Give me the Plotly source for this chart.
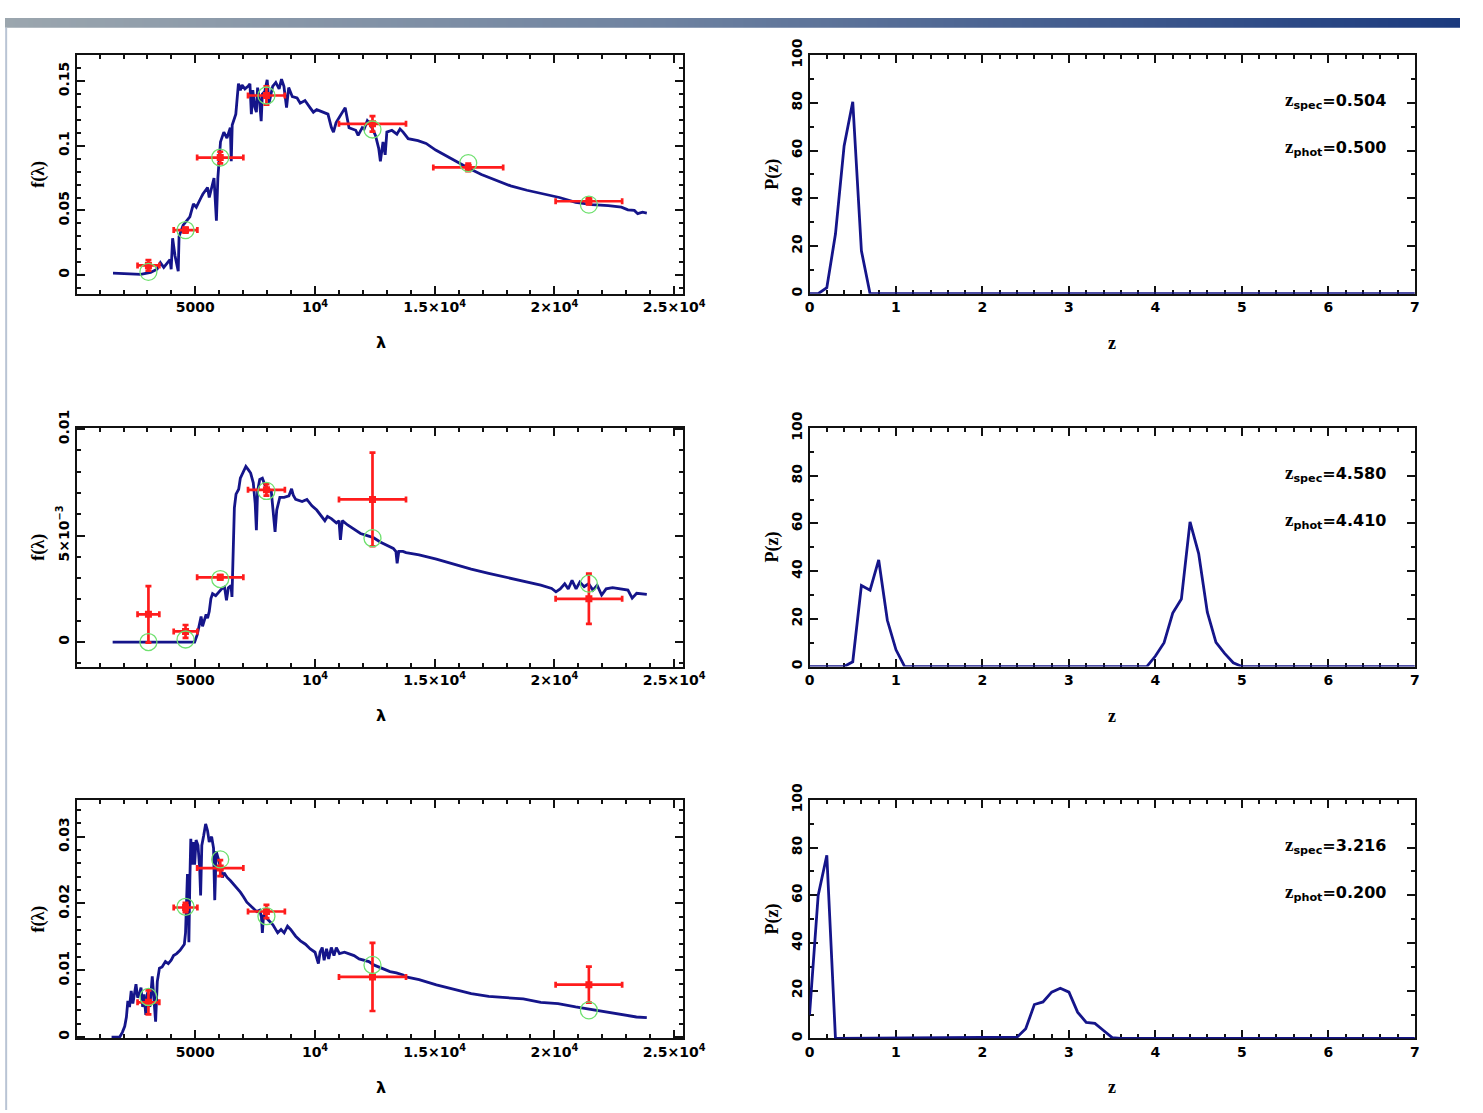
import plotly.graph_objects as go

W, H = 1483, 1113

# ---------------- data ----------------
sed1_lam = [1560, 2180, 2720, 3130, 3400, 3540, 3680, 3940, 3990, 4050, 4150, 4285, 4320, 4490, 4690, 4770,
            4920, 5040, 5240, 5310, 5510, 5580, 5780, 5820, 5880, 5940, 6050, 6190, 6320, 6460, 6500, 6540,
            6690, 6800, 6880, 6950, 7070, 7200, 7280, 7340, 7400, 7480, 7550, 7600, 7680, 7750, 7800, 7900,
            8000, 8080, 8230, 8360, 8500, 8600, 8700, 8810, 8900, 9050, 9250, 9380, 9580, 9790, 9930, 10070,
            10340, 10540, 10680, 10770, 10880, 11080, 11260, 11420, 11560, 11700, 11800, 11970, 12050, 12185,
            12300, 12525, 12660, 12730, 12840, 12930, 13000, 13210, 13420, 13550, 13680, 13890, 14300, 14640,
            15040, 15520, 16000, 16400, 16950, 17490, 18170, 18850, 19530, 20210, 20890, 21570, 22250, 22800,
            23070, 23340, 23480, 23680, 23860]
sed1_flux = [0.0015, 0.0008, 0.0005, 0.0020, 0.0045, 0.0096, 0.0060, 0.0120, 0.0045, 0.0285, 0.0150, 0.0030,
             0.0300, 0.0386, 0.0437, 0.0450, 0.0550, 0.0525, 0.0600, 0.0625, 0.0677, 0.0600, 0.0750, 0.0600,
             0.0420, 0.0750, 0.1030, 0.1106, 0.1060, 0.1140, 0.0880, 0.1160, 0.1245, 0.1480, 0.1430, 0.1470,
             0.1440, 0.1460, 0.1480, 0.1245, 0.1430, 0.1300, 0.1260, 0.1450, 0.1350, 0.1190, 0.1400, 0.1420,
             0.1510, 0.1330, 0.1460, 0.1490, 0.1440, 0.1515, 0.1460, 0.1295, 0.1450, 0.1380, 0.1370, 0.1330,
             0.1350, 0.1295, 0.1260, 0.1280, 0.1258, 0.1245, 0.1144, 0.1106, 0.1180, 0.1245, 0.1295, 0.1140,
             0.1130, 0.1120, 0.1080, 0.1140, 0.1130, 0.1194, 0.1170, 0.1080, 0.0980, 0.0880, 0.1030, 0.0930,
             0.1106, 0.1120, 0.1090, 0.1130, 0.1106, 0.1055, 0.1040, 0.1018, 0.0967, 0.0917, 0.0866, 0.0828,
             0.0778, 0.0740, 0.0690, 0.0656, 0.0626, 0.0600, 0.0563, 0.0545, 0.0538, 0.0525, 0.0505, 0.0500,
             0.0475, 0.0487, 0.0480]

sed2_lam = [1545, 4970, 5080, 5180, 5240, 5300, 5380, 5450, 5510, 5580, 5650, 5720, 5850, 5990, 6100, 6220,
            6300, 6380, 6490, 6530, 6575, 6630, 6700, 6810, 6880, 6940, 7010, 7110, 7210, 7310, 7420, 7500,
            7550, 7600, 7690, 7800, 7900, 8030, 8170, 8260, 8330, 8400, 8530, 8710, 8910, 9020, 9090, 9190,
            9460, 9660, 9870, 10070, 10270, 10410, 10520, 10680, 10890, 11000, 11060, 11140, 11360, 11630,
            11900, 12180, 12450, 12720, 12990, 13270, 13380, 13430, 13500, 13670, 13803, 14347, 15069, 15801,
            16523, 17255, 17977, 18699, 19431, 19886, 20064, 20242, 20430, 20578, 20737, 20905, 21063, 21241,
            21429, 21607, 21785, 21973, 22161, 22428, 22705, 23071, 23249, 23437, 23860]
sed2_flux = [0.0, 0.0, 0.00035, 0.00097, 0.0012, 0.00074, 0.00105, 0.0013, 0.00112, 0.00143, 0.00204,
             0.00227, 0.00218, 0.00238, 0.00250, 0.00258, 0.00196, 0.00255, 0.00265, 0.00212, 0.0040, 0.0063,
             0.00695, 0.00718, 0.0077, 0.00785, 0.0080, 0.00825, 0.0081, 0.00794, 0.00748, 0.0065, 0.00526,
             0.0071, 0.00764, 0.0077, 0.0074, 0.0072, 0.0071, 0.0060, 0.00518, 0.0062, 0.0068, 0.0068, 0.00687,
             0.0072, 0.0069, 0.0067, 0.0066, 0.0067, 0.0064, 0.0062, 0.0059, 0.0057, 0.0059, 0.0058, 0.0056,
             0.0057, 0.0048, 0.0057, 0.0055, 0.0053, 0.0051, 0.0050, 0.0049, 0.0047, 0.00457, 0.0044, 0.00425,
             0.0037, 0.00426, 0.00426, 0.0042, 0.0041, 0.0039, 0.00366, 0.00343, 0.00323, 0.00305, 0.00287,
             0.00267, 0.00252, 0.00236, 0.0025, 0.00274, 0.0025, 0.0029, 0.0025, 0.00282, 0.0026, 0.00274,
             0.00244, 0.00267, 0.00221, 0.0025, 0.00256, 0.0025, 0.00244, 0.00206, 0.00229, 0.00224]

sed3_lam = [1500, 1840, 1950, 2050, 2120, 2180, 2250, 2320, 2390, 2450, 2520, 2590, 2660, 2730, 2800, 2860,
            2930, 3000, 3100, 3200, 3270, 3340, 3410, 3500, 3610, 3750, 3870, 3990, 4090, 4220, 4360, 4450,
            4540, 4590, 4630, 4670, 4700, 4730, 4770, 4810, 4860, 4920, 4970, 5030, 5110, 5180, 5220, 5270,
            5350, 5430, 5510, 5580, 5680, 5760, 5810, 5870, 5990, 6130, 6200, 6330, 6470, 6600, 6740, 6880,
            7010, 7150, 7350, 7560, 7690, 7760, 7800, 7850, 8030, 8240, 8440, 8580, 8710, 8850, 8980, 9190,
            9390, 9600, 9800, 10000, 10140, 10210, 10300, 10380, 10480, 10570, 10680, 10790, 10890, 11020,
            11230, 11430, 11630, 11840, 12040, 12250, 12450, 12660, 12860, 13130, 13400, 13680, 13803, 14347,
            15069, 15801, 16523, 17255, 17977, 18699, 19431, 20153, 20885, 21429, 21973, 22695, 23427, 23860]
sed3_flux = [0.0, 0.0, 0.0007, 0.0016, 0.0030, 0.0054, 0.0045, 0.0069, 0.0050, 0.0067, 0.0079, 0.0059,
             0.0064, 0.0074, 0.0045, 0.0064, 0.0033, 0.0067, 0.0045, 0.0091, 0.0059, 0.0023, 0.0083, 0.0103,
             0.0105, 0.0113, 0.0110, 0.0115, 0.0122, 0.0125, 0.0130, 0.0134, 0.0139, 0.0156, 0.0195, 0.0244,
             0.0210, 0.0142, 0.0234, 0.0297, 0.0258, 0.0292, 0.0258, 0.0295, 0.0287, 0.0253, 0.0212, 0.0287,
             0.0302, 0.0319, 0.0309, 0.0292, 0.0300, 0.0283, 0.0205, 0.0278, 0.0263, 0.0239, 0.0246, 0.0239,
             0.0234, 0.0229, 0.0222, 0.0217, 0.0210, 0.0202, 0.0195, 0.0188, 0.0190, 0.0180, 0.0156, 0.0183,
             0.0176, 0.0168, 0.0156, 0.0161, 0.0156, 0.0166, 0.0161, 0.0151, 0.0144, 0.0139, 0.0132, 0.0127,
             0.0110, 0.0127, 0.0134, 0.0115, 0.0132, 0.0117, 0.0134, 0.0122, 0.0134, 0.0125, 0.0127, 0.0125,
             0.0122, 0.0117, 0.0115, 0.0113, 0.0108, 0.0105, 0.0103, 0.0098, 0.0096, 0.0093, 0.0090, 0.0086,
             0.0078, 0.0072, 0.0065, 0.0061, 0.0059, 0.0057, 0.0052, 0.0050, 0.0045, 0.0042, 0.0038, 0.0034,
             0.0030, 0.0029]

# photometry: filter centres, half-widths, observed flux, error, model flux
phot1_lam = [3040, 4590, 6040, 7970, 12400, 16400, 21440]
phot1_dlam = [455, 495, 965, 770, 1400, 1460, 1390]
phot1_flux = [0.0075, 0.0348, 0.0909, 0.1389, 0.1170, 0.0833, 0.0571]
phot1_err = [0.0040, 0.0020, 0.0045, 0.0070, 0.0060, 0.0030, 0.0025]
model1_flux = [0.0025, 0.0348, 0.0909, 0.1389, 0.1126, 0.0866, 0.0545]

phot2_lam = [3040, 4590, 6040, 7970, 12400, 21440]
phot2_dlam = [455, 495, 965, 770, 1400, 1390]
phot2_flux = [0.0013, 0.0005, 0.00304, 0.00715, 0.0067, 0.00203]
phot2_err = [0.00133, 0.0003, 0.0001, 0.00027, 0.0022, 0.00118]
model2_flux = [0.0, 0.00012, 0.00296, 0.0071, 0.00488, 0.00274]

phot3_lam = [3040, 4590, 6040, 7970, 12400, 21440]
phot3_dlam = [455, 495, 965, 770, 1400, 1390]
phot3_flux = [0.0052, 0.0194, 0.0253, 0.0188, 0.0090, 0.00784]
phot3_err = [0.0018, 0.0007, 0.0012, 0.0010, 0.0051, 0.0027]
model3_flux = [0.0060, 0.0195, 0.0266, 0.0181, 0.0108, 0.0040]

# redshift probability distributions
pz1_z = [0, 0.1, 0.2, 0.3, 0.4, 0.5, 0.6, 0.7, 7.0]
pz1_p = [0, 0, 2.5, 25, 62, 80.5, 18, 0, 0]
pz2_z = [0, 0.4, 0.5, 0.6, 0.7, 0.8, 0.9, 1.0, 1.1, 3.9, 4.0, 4.1, 4.2, 4.3, 4.4, 4.5, 4.6, 4.7, 4.8, 4.9, 5.0, 7.0]
pz2_p = [0, 0, 2, 34, 32, 44.7, 19.4, 7, 0, 0, 4.4, 10, 22.4, 28.3, 60.7, 47.4, 22.8, 10.1, 5.5, 1.6, 0, 0]
pz3_z = [0, 0.1, 0.2, 0.3, 2.4, 2.5, 2.6, 2.7, 2.8, 2.9, 3.0, 3.1, 3.2, 3.3, 3.4, 3.5, 3.6, 7.0]
pz3_p = [9.8, 60, 76.8, 0, 0.5, 4, 14.2, 15.3, 19.4, 21, 19.4, 11, 6.7, 6.3, 3.3, 0.3, 0, 0]

z_spec = ["0.504", "4.580", "3.216"]
z_phot = ["0.500", "4.410", "0.200"]

lam_tickvals = [5000, 10000, 15000, 20000, 25000]
lam_ticktext = ["5000", "10<sup>4</sup>", "1.5×10<sup>4</sup>", "2×10<sup>4</sup>", "2.5×10<sup>4</sup>"]
f_tickvals = [[0, 0.05, 0.1, 0.15], [0, 0.005, 0.01], [0, 0.01, 0.02, 0.03]]
f_ticktext = [["0", "0.05", "0.1", "0.15"], ["0", "5×10<sup>−3</sup>", "0.01"], ["0", "0.01", "0.02", "0.03"]]
f_minor = [0.01, 0.001, 0.002]
f_ranges = [[-0.0144, 0.170], [-0.00115, 0.01005], [-0.0002, 0.0355]]

# ---------------- styling / layout ----------------
BLUE = "#15158a"
RED = "#ff1c1c"
GREEN = "#6fe06f"
TICKFONT = dict(family="DejaVu Sans", size=14, color="black", weight="bold")
SERIF = "Liberation Serif"


def px_x(p):
    return p / W


def px_y(p):
    return 1 - p / H


left_dom = [px_x(73), px_x(691)]
right_dom = [px_x(820), px_x(1437)]
rows_px = [(38, 281), (418, 661), (797, 1040)]
row_dom = [[px_y(b), px_y(t)] for (t, b) in rows_px]

fig = go.Figure()

seds = [(sed1_lam, sed1_flux), (sed2_lam, sed2_flux), (sed3_lam, sed3_flux)]
phots = [(phot1_lam, phot1_dlam, phot1_flux, phot1_err, model1_flux),
         (phot2_lam, phot2_dlam, phot2_flux, phot2_err, model2_flux),
         (phot3_lam, phot3_dlam, phot3_flux, phot3_err, model3_flux)]
pzs = [(pz1_z, pz1_p), (pz2_z, pz2_p), (pz3_z, pz3_p)]

axis_common = dict(showline=True, linecolor="#111111", linewidth=2, mirror="allticks",
                   ticks="inside", ticklen=8, tickwidth=2, tickcolor="#111111",
                   showgrid=False, zeroline=False, tickfont=TICKFONT)
minor_common = dict(ticks="inside", ticklen=4, tickwidth=1.5, tickcolor="#111111", showgrid=False)

layout = dict(width=W, height=H, margin=dict(l=0, r=0, t=0, b=0),
              paper_bgcolor="white", plot_bgcolor="white", showlegend=False)
annotations = []

for i in range(3):
    la = 2 * i + 1
    ra = 2 * i + 2
    lx = "x" if la == 1 else f"x{la}"
    ly = "y" if la == 1 else f"y{la}"
    rx, ry = f"x{ra}", f"y{ra}"

    lam, flux = seds[i]
    fig.add_trace(go.Scatter(x=lam, y=flux, mode="lines", line=dict(color=BLUE, width=2.8),
                             xaxis=lx, yaxis=ly, hoverinfo="skip"))
    pl, pdl, pf, pe, mf = phots[i]
    fig.add_trace(go.Scatter(x=pl, y=pf, mode="markers",
                             marker=dict(symbol="square", size=7, color=RED),
                             error_x=dict(type="data", array=pdl, color=RED, thickness=2.7, width=3),
                             error_y=dict(type="data", array=pe, color=RED, thickness=2.7, width=3),
                             xaxis=lx, yaxis=ly, hoverinfo="skip"))
    fig.add_trace(go.Scatter(x=pl, y=mf, mode="markers",
                             marker=dict(symbol="circle-open", size=17, color=GREEN, line=dict(width=1.3)),
                             xaxis=lx, yaxis=ly, hoverinfo="skip"))
    zz, pp = pzs[i]
    fig.add_trace(go.Scatter(x=zz, y=pp, mode="lines", line=dict(color=BLUE, width=2.8),
                             xaxis=rx, yaxis=ry, hoverinfo="skip", cliponaxis=False))

    xkey = "xaxis" if la == 1 else f"xaxis{la}"
    ykey = "yaxis" if la == 1 else f"yaxis{la}"
    layout[xkey] = dict(axis_common, domain=left_dom, anchor=ly, range=[40, 25370],
                        tickvals=lam_tickvals, ticktext=lam_ticktext,
                        minor=dict(minor_common, dtick=1000, tick0=0))
    layout[ykey] = dict(axis_common, domain=row_dom[i], anchor=lx, range=f_ranges[i],
                        tickvals=f_tickvals[i], ticktext=f_ticktext[i], tickangle=-90,
                        minor=dict(minor_common, dtick=f_minor[i], tick0=0))
    layout[f"xaxis{ra}"] = dict(axis_common, domain=right_dom, anchor=ry, range=[0, 7],
                                tickvals=[0, 1, 2, 3, 4, 5, 6, 7], layer="below traces",
                                minor=dict(minor_common, dtick=0.2, tick0=0))
    layout[f"yaxis{ra}"] = dict(axis_common, domain=row_dom[i], anchor=rx, range=[0, 100],
                                tickvals=[0, 20, 40, 60, 80, 100], tickangle=-90, layer="below traces",
                                minor=dict(minor_common, dtick=10, tick0=0))

    top, bot = rows_px[i]
    mid = (top + bot) / 2
    annotations.append(dict(text="f(λ)", x=px_x(34), y=px_y(mid), xref="paper", yref="paper",
                            textangle=-90, showarrow=False, xanchor="center", yanchor="middle",
                            font=dict(family=SERIF, size=18, color="black", weight="bold")))
    annotations.append(dict(text="λ", x=px_x(383), y=px_y(bot + 50), xref="paper", yref="paper",
                            showarrow=False, xanchor="center", yanchor="middle",
                            font=dict(family="DejaVu Sans", size=16, color="black", weight="bold")))
    annotations.append(dict(text="P(z)", x=px_x(782), y=px_y(mid), xref="paper", yref="paper",
                            textangle=-90, showarrow=False, xanchor="center", yanchor="middle",
                            font=dict(family=SERIF, size=18, color="black", weight="bold")))
    annotations.append(dict(text="z", x=px_x(1128), y=px_y(bot + 50), xref="paper", yref="paper",
                            showarrow=False, xanchor="center", yanchor="middle",
                            font=dict(family=SERIF, size=18, color="black", weight="bold")))
    zs = f"<span style='font-family:{SERIF};font-size:19px'>z</span>"
    annotations.append(dict(text=f"{zs}<sub>spec</sub>={z_spec[i]}", x=px_x(1410), y=px_y(top + 46),
                            xref="paper", yref="paper", showarrow=False, xanchor="right", yanchor="middle",
                            font=dict(family="DejaVu Sans", size=16, color="black", weight="bold")))
    annotations.append(dict(text=f"{zs}<sub>phot</sub>={z_phot[i]}", x=px_x(1410), y=px_y(top + 94),
                            xref="paper", yref="paper", showarrow=False, xanchor="right", yanchor="middle",
                            font=dict(family="DejaVu Sans", size=16, color="black", weight="bold")))

# decorative slide header gradient
grad_steps = list(range(40))
fig.add_trace(go.Heatmap(z=[grad_steps], xaxis="x7", yaxis="y7", showscale=False, hoverinfo="skip",
                         zsmooth="best",
                         colorscale=[[0, "#9ba6ae"], [0.45, "#6e82a0"], [1, "#1b3a7e"]]))
layout["xaxis7"] = dict(domain=[0, 1], anchor="y7", visible=False, range=[0, len(grad_steps) - 1],
                        fixedrange=True)
layout["yaxis7"] = dict(domain=[px_y(10), 1], anchor="x7", visible=False, range=[-0.5, 0.5],
                        fixedrange=True)
layout["shapes"] = [dict(type="line", xref="paper", yref="paper", x0=0.0008, x1=0.0008,
                         y0=0, y1=px_y(10), line=dict(color="#b9c4d4", width=2))]
layout["annotations"] = annotations

fig.update_layout(**layout)
fig.write_html("out.html",
               post_script="document.body.style.margin='0px';document.body.style.padding='0px';")
